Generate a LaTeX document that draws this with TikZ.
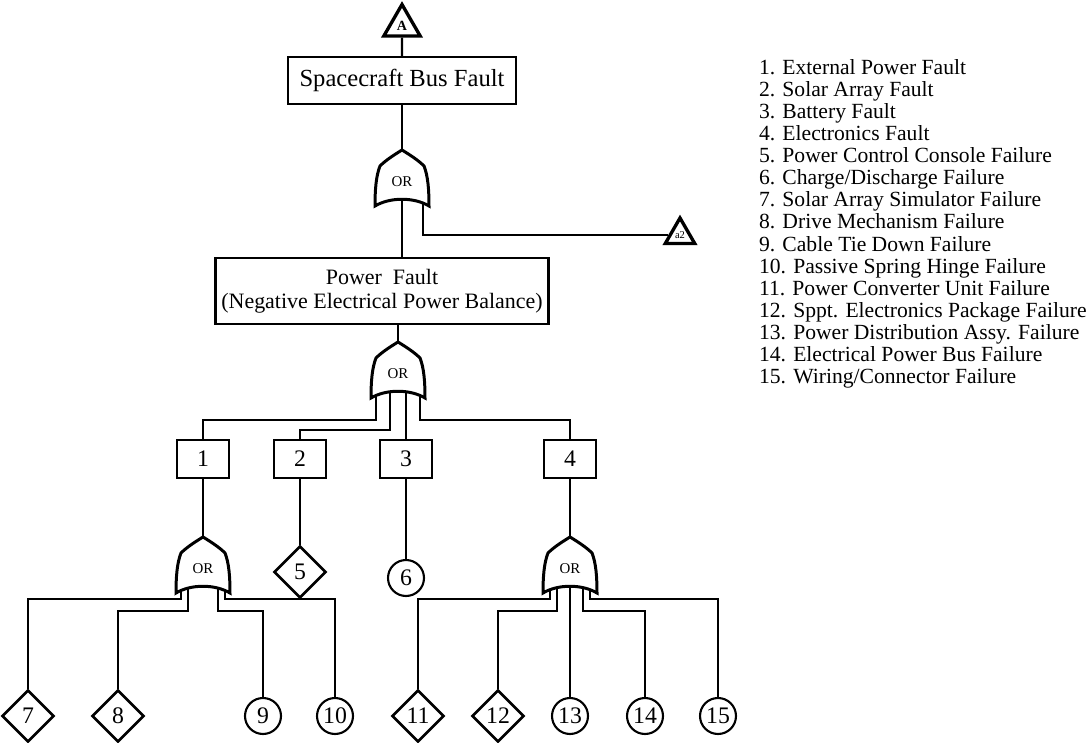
\documentclass[tikz,border=0pt]{standalone}
\usepackage{fontspec}
\setmainfont{Liberation Serif}
\usetikzlibrary{shapes.geometric,calc,positioning}

\begin{document}
\begin{tikzpicture}[x=0.02cm, y=-0.02cm, line width=1.2pt,
    every node/.style={font=\fontsize{12.3}{13.5}\selectfont},
    evbox/.style={draw, line width=1.3pt, minimum width=1.04cm, minimum height=0.76cm, inner sep=0pt, font=\fontsize{13.5}{14}\selectfont},
    basic/.style={draw, circle, line width=1.2pt, minimum size=0.72cm, inner sep=0pt, font=\fontsize{13.5}{14}\selectfont},
    undev/.style={draw, diamond, line width=1.5pt, minimum width=1.04cm, minimum height=1.04cm, inner sep=0pt, font=\fontsize{13.5}{14}\selectfont},
    transfer/.style={draw, regular polygon, regular polygon sides=3, line width=1.9pt, inner sep=0pt},
    orgate/.pic={
      \draw[line width=1.7pt, fill=white] (0,0) .. controls (-8,5) and (-16,10) .. (-22,16)
        .. controls (-26,26) and (-27,40) .. (-27,56)
        .. controls (-12,47) and (12,47) .. (27,56)
        .. controls (27,40) and (26,26) .. (22,16)
        .. controls (16,10) and (8,5) .. (0,0) -- cycle;
      \node[font=\fontsize{8.5}{8.5}\selectfont] (-or) at (0,32) {OR};
    }]
  \useasboundingbox (0,0) rectangle (1091,743);

  \node[transfer, minimum size=0.84cm, font=\fontsize{8}{8}\bfseries] (tA) at (402,25.5) {A};
  \node[draw, line width=1.3pt, minimum width=4.56cm, minimum height=0.94cm, font=\fontsize{14}{15}\selectfont] (sbf) at (402,80.5) {Spacecraft Bus Fault};
  \node[draw, line width=1.3pt, minimum width=6.4cm, minimum height=1.32cm, align=center, font=\fontsize{12.5}{13.5}\selectfont] (pf) at (382,291) {Power~~Fault\\(Negative Electrical Power Balance)};
  \node[transfer, minimum size=0.68cm, font=\fontsize{6}{6}\selectfont] (ta2) at (680,235) {a2};

  \coordinate (g1) at (402,150);
  \coordinate (g2) at (398,342);
  \coordinate (g3) at (203,537);
  \coordinate (g4) at (570,537);

  \node[evbox] (b1) at (203,459) {1};
  \node[evbox] (b2) at (300,459) {2};
  \node[evbox] (b3) at (406,459) {3};
  \node[evbox] (b4) at (570,459) {4};

  \node[undev] (d5) at (300,572) {5};
  \node[basic] (c6) at (406,578) {6};
  \node[undev] (d7) at (28,716) {7};
  \node[undev] (d8) at (118,716) {8};
  \node[basic] (c9) at (263,716) {9};
  \node[basic] (c10) at (335,716) {10};
  \node[undev] (d11) at (418,716) {11};
  \node[undev] (d12) at (498,716) {12};
  \node[basic] (c13) at (570,716) {13};
  \node[basic] (c14) at (645,716) {14};
  \node[basic] (c15) at (718,716) {15};

  \draw (tA.south) -- (sbf.north);
  \draw (sbf.south) -- (g1);
  \draw ($(g1)+(0,40)$) -- (g1 |- pf.north);
  \draw ($(g1)+(21,40)$) |- (ta2.west);
  \draw (pf.south -| g2) -- (g2);

  \draw ($(g2)+(-22,40)$) -- ($(g2)+(-22,78)$) -| (b1.north);
  \draw ($(g2)+(-8,40)$) -- ($(g2)+(-8,88)$) -| (b2.north);
  \draw ($(g2)+(8,40)$) -- (b3.north);
  \draw ($(g2)+(22,40)$) -- ($(g2)+(22,78)$) -| (b4.north);

  \draw (b1.south) -- (g3);
  \draw (b2.south) -- (d5.north);
  \draw (b3.south) -- (c6.north);
  \draw (b4.south) -- (g4);

  \draw ($(g3)+(-22,40)$) -- ($(g3)+(-22,62)$) -| (d7.north);
  \draw ($(g3)+(-15,40)$) -- ($(g3)+(-15,74)$) -| (d8.north);
  \draw ($(g3)+(15,40)$) -- ($(g3)+(15,74)$) -| (c9.north);
  \draw ($(g3)+(22,40)$) -- ($(g3)+(22,62)$) -| (c10.north);

  \draw ($(g4)+(-20,40)$) -- ($(g4)+(-20,62)$) -| (d11.north);
  \draw ($(g4)+(-13,40)$) -- ($(g4)+(-13,74)$) -| (d12.north);
  \draw ($(g4)+(0,40)$) -- (c13.north);
  \draw ($(g4)+(13,40)$) -- ($(g4)+(13,74)$) -| (c14.north);
  \draw ($(g4)+(20,40)$) -- ($(g4)+(20,62)$) -| (c15.north);

  \pic (og1) at (g1) {orgate};
  \pic (og2) at (g2) {orgate};
  \pic (og3) at (g3) {orgate};
  \pic (og4) at (g4) {orgate};

  \foreach \i/\txt in {1/{External Power Fault}, 2/{Solar Array Fault}, 3/{Battery Fault},
      4/{Electronics Fault}, 5/{Power Control Console Failure}, 6/{Charge/Discharge Failure},
      7/{Solar Array Simulator Failure}, 8/{Drive Mechanism Failure}, 9/{Cable Tie Down Failure},
      10/{Passive Spring Hinge Failure}, 11/{Power Converter Unit Failure},
      12/{Sppt. Electronics Package Failure}, 13/{Power Distribution Assy. Failure},
      14/{Electrical Power Bus Failure}, 15/{Wiring/Connector Failure}}
    \node[anchor=base west, inner sep=0pt] (item\i) at (758,{75+22*(\i-1)}) {\i. \txt};
\end{tikzpicture}
\end{document}
